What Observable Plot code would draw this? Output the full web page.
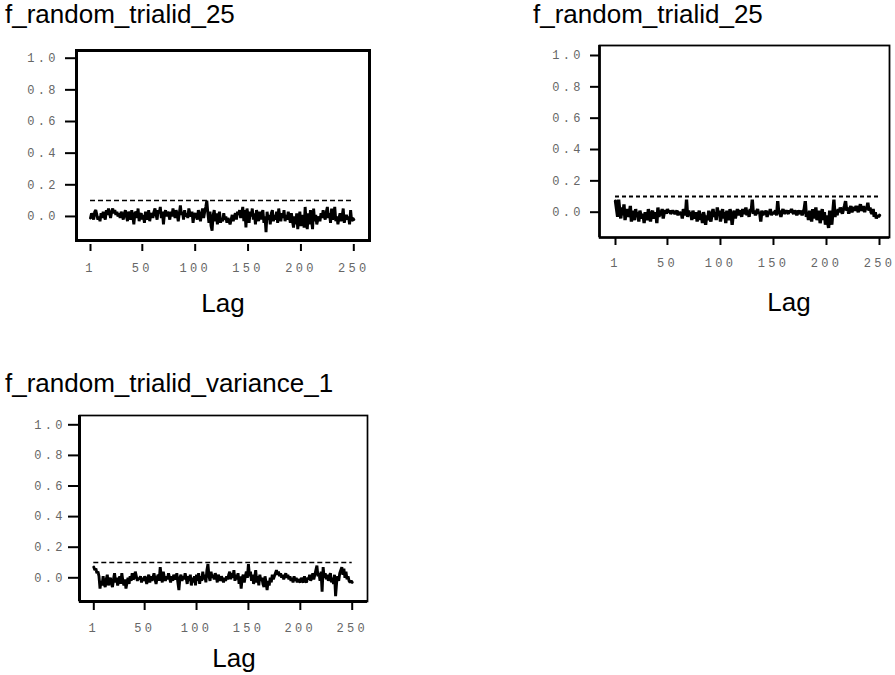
<!DOCTYPE html>
<html><head><meta charset="utf-8">
<script src="https://cdn.jsdelivr.net/npm/d3@7"></script>
<script src="https://cdn.jsdelivr.net/npm/@observablehq/plot@0.6"></script>
<style>
html,body{margin:0;padding:0;background:#fff;}
body{width:895px;height:675px;position:relative;overflow:hidden;}
.title{position:absolute;font-family:"Liberation Sans",Arial,sans-serif;font-size:26px;line-height:26px;color:#000;white-space:nowrap;}
.panel{position:absolute;}
.panel svg{overflow:visible;}
.panel [aria-label$="tick label"]{letter-spacing:3.3px;}
</style></head><body>
<script>
const lags = Array.from({length: 250}, (_, i) => i + 1);
const titles = ["f_random_trialid_25", "f_random_trialid_25", "f_random_trialid_variance_1"];
const axisLabel = "Lag";
const yTicks = [0, 0.2, 0.4, 0.6, 0.8, 1.0];
const xTicks = [1, 50, 100, 150, 200, 250];
const bound = 0.1;
const lagRange = [1, 250];

const acf1 = [
-0.01,0.02,0.00,-0.02,0.03,0.04,0.01,-0.02,0.00,-0.03,0.02,-0.01,0.03,0.00,-0.02,0.04,0.01,0.05,0.02,-0.01,0.03,0.05,0.02,0.04,0.01,
0.03,0.00,0.02,-0.01,0.03,0.01,-0.02,0.02,0.04,0.00,-0.03,0.03,0.01,-0.02,0.04,0.00,-0.05,0.02,0.03,-0.01,0.05,-0.03,0.01,0.02,-0.02,
0.01,-0.04,0.03,0.00,-0.02,0.04,-0.03,0.01,0.02,-0.01,0.03,0.05,0.01,-0.02,0.04,0.02,0.06,-0.01,0.03,-0.05,0.02,0.04,0.00,0.03,0.01,
-0.02,0.03,0.00,0.05,0.02,-0.01,0.04,0.01,-0.03,0.02,0.07,0.01,0.03,-0.02,0.04,0.00,0.02,-0.01,0.05,0.02,0.00,0.03,-0.04,0.01,0.02,
0.00,-0.02,0.04,0.01,-0.03,0.02,0.05,-0.01,0.03,0.06,0.10,0.02,-0.04,0.03,-0.06,-0.09,0.01,0.04,-0.03,0.02,-0.05,0.00,0.03,-0.04,-0.01,
-0.03,0.02,-0.02,0.00,-0.04,-0.01,-0.03,-0.05,-0.02,0.01,-0.03,0.00,0.02,-0.02,0.03,0.01,0.04,-0.01,0.02,0.06,-0.03,0.04,-0.07,0.05,0.01,
-0.04,0.03,0.00,0.05,-0.02,0.02,-0.05,0.04,0.01,-0.03,0.03,-0.02,0.02,0.04,-0.04,0.00,-0.10,0.03,-0.02,0.01,-0.05,0.02,0.04,-0.03,0.01,
-0.02,0.03,-0.04,0.05,0.00,-0.03,0.02,-0.01,0.04,-0.03,0.01,-0.02,0.03,0.00,-0.04,0.02,-0.03,-0.07,0.00,-0.05,0.02,-0.08,-0.02,0.03,-0.06,
-0.03,0.01,-0.07,0.06,-0.04,-0.08,0.02,-0.05,0.04,-0.02,-0.08,0.05,-0.03,0.01,-0.05,-0.02,0.00,-0.03,0.02,-0.01,0.04,0.00,-0.02,0.03,0.06,
-0.01,0.02,-0.04,0.05,-0.02,0.01,0.06,-0.03,0.00,-0.05,-0.01,0.02,-0.03,0.00,0.05,-0.04,-0.01,0.01,-0.02,0.00,-0.05,0.04,-0.03,-0.01,-0.02
];
const acf2 = [
0.07,0.02,-0.03,0.08,0.01,-0.04,0.03,-0.02,0.05,-0.05,0.00,0.02,-0.03,-0.01,0.04,-0.06,0.01,-0.02,-0.05,0.02,-0.03,0.00,-0.06,0.01,-0.02,
-0.04,-0.01,-0.07,0.00,-0.03,-0.05,0.02,-0.02,-0.06,-0.01,0.01,-0.04,-0.02,0.00,-0.07,0.03,-0.03,0.01,-0.02,0.02,-0.04,0.00,0.01,-0.01,0.02,
0.00,0.01,-0.01,0.00,0.01,0.00,-0.01,0.00,0.01,-0.02,0.00,-0.01,0.00,-0.04,0.02,0.00,-0.02,0.08,-0.03,0.01,-0.02,0.00,-0.05,0.01,-0.02,
-0.04,0.00,-0.06,-0.02,0.01,-0.05,-0.01,-0.07,0.00,-0.03,-0.08,-0.02,-0.05,0.01,-0.04,-0.06,-0.01,0.02,-0.03,0.00,-0.05,0.03,-0.02,0.01,-0.06,
-0.02,0.02,-0.04,0.00,-0.07,0.01,-0.03,-0.05,0.02,-0.01,-0.08,-0.02,0.01,-0.04,-0.01,0.02,-0.02,0.00,0.01,-0.03,0.02,-0.01,0.00,0.03,-0.02,
0.01,-0.03,0.02,0.00,0.08,-0.01,0.01,-0.02,0.00,0.02,-0.01,0.00,-0.06,0.01,-0.02,0.00,-0.01,0.01,-0.03,0.00,-0.01,0.02,-0.02,0.00,-0.01,
0.00,0.01,-0.02,0.07,-0.01,0.01,-0.03,0.00,0.02,-0.01,0.00,0.01,0.00,-0.01,0.01,0.00,0.02,0.00,-0.01,0.01,0.00,-0.02,0.01,0.00,-0.01,
0.01,-0.02,0.00,0.02,0.07,-0.03,0.00,-0.05,0.01,-0.02,-0.06,0.02,-0.04,-0.01,0.03,-0.05,-0.02,0.01,-0.07,-0.03,0.02,-0.05,0.00,-0.08,-0.02,
-0.06,-0.10,0.01,-0.04,-0.08,0.00,0.08,-0.03,0.01,-0.02,0.02,0.00,0.03,0.01,-0.01,0.02,0.04,0.07,0.01,0.03,-0.01,0.02,0.04,0.00,0.02,
0.03,0.01,0.04,0.02,0.00,0.03,0.05,0.01,0.02,0.04,0.00,0.03,0.02,0.06,0.01,0.03,0.00,-0.01,0.02,-0.03,0.00,-0.04,-0.02,-0.03,-0.02
];
const acf3 = [
0.07,0.05,0.06,0.03,0.04,0.01,-0.07,-0.02,-0.05,0.01,-0.04,-0.06,-0.01,0.02,-0.05,-0.02,0.00,-0.04,-0.06,-0.01,0.03,-0.03,0.00,-0.05,-0.02,
0.01,-0.04,0.03,-0.02,-0.05,-0.01,-0.07,-0.03,0.00,-0.04,0.01,-0.02,0.03,-0.01,0.00,0.04,0.01,-0.02,0.00,-0.01,0.01,-0.03,0.00,-0.02,0.01,
-0.01,-0.04,0.00,0.02,-0.03,0.01,-0.02,0.00,0.03,-0.01,-0.04,0.00,0.02,-0.02,0.07,0.01,-0.03,0.04,0.00,-0.02,0.01,-0.01,0.03,0.00,-0.03,
0.01,-0.02,0.02,0.00,-0.01,0.03,-0.03,-0.08,0.00,0.02,-0.02,0.01,-0.01,0.03,0.00,-0.04,0.01,-0.02,0.02,-0.05,0.00,-0.03,0.01,-0.05,0.02,
-0.02,0.03,-0.04,0.01,-0.02,0.04,-0.01,0.02,-0.03,0.05,0.09,0.01,-0.02,0.04,0.00,0.02,-0.01,0.03,0.01,-0.03,0.02,0.00,-0.02,0.01,-0.01,
-0.03,0.00,-0.02,0.01,-0.01,0.02,0.04,-0.01,0.03,0.00,0.05,-0.02,0.02,-0.01,0.03,-0.04,0.01,-0.07,0.00,0.02,-0.03,0.01,0.04,0.00,0.09,
0.01,0.04,-0.02,0.02,-0.04,0.00,0.05,-0.03,0.01,-0.05,0.02,-0.02,0.00,-0.04,-0.06,0.01,-0.03,-0.08,-0.02,-0.05,0.00,-0.03,0.02,-0.01,0.01,
0.03,0.05,0.02,0.04,0.01,0.03,0.00,0.02,-0.01,0.01,0.03,0.00,0.02,-0.01,0.01,-0.02,0.00,-0.03,0.01,-0.02,0.00,-0.03,-0.01,-0.02,-0.03,
0.00,-0.02,-0.03,0.01,-0.02,-0.03,0.00,-0.01,0.02,-0.02,0.00,0.03,-0.01,0.02,0.05,0.08,0.01,0.03,-0.02,0.04,-0.09,0.07,0.00,0.03,-0.01,
0.02,-0.02,0.01,0.03,-0.03,0.00,-0.04,0.02,-0.12,-0.03,0.01,-0.02,0.03,0.05,0.07,0.02,0.06,0.00,0.04,-0.01,0.01,-0.02,-0.03,-0.02,-0.03
];

const panels = [
  {series: acf1, title: titles[0], tx: 5, ty: 1, left: 0, top: 30, width: 380, height: 290,
   mL: 76, mR: 11, mT: 20, mB: 80, xd: [-12.24, 264.85], yd: [-0.152, 1.0487],
   frameW: 3, edgeW: 3, ySize: 11, yPad: 6.7, xDy: 4, xSize: 7, xPad: 12,
   lagDx: 0, lagDy: 71, dash: "5,3", dashW: 1.5, lineW: 2.9},
  {series: acf2, title: titles[1], tx: 533, ty: 1, left: 440, top: 30, width: 455, height: 295,
   mL: 159, mR: 6, mT: 15, mB: 88, xd: [-14.09, 259.43], yd: [-0.1615, 1.0638],
   frameW: 1.8, edgeW: 2.7, ySize: 9, yPad: 6.7, xDy: 0, xSize: 8, xPad: 13,
   lagDx: 44.5, lagDy: 73, dash: "4,3", dashW: 2.2, lineW: 3.3},
  {series: acf3, title: titles[2], tx: 5, ty: 370, left: 0, top: 395, width: 380, height: 280,
   mL: 79, mR: 13, mT: 20, mB: 74, xd: [-12.78, 264.74], yd: [-0.1549, 1.0608],
   frameW: 1.7, edgeW: 3, ySize: 11, yPad: 2.7, xDy: 2, xSize: 7, xPad: 12.5,
   lagDx: 10.5, lagDy: 65, dash: "5,3", dashW: 1.5, lineW: 2.9}
];

const tickFont = "Liberation Mono, Courier New, monospace";
const labelFont = "Liberation Sans, Arial, sans-serif";

for (const p of panels) {
  const t = document.createElement("div");
  t.className = "title";
  t.style.left = p.tx + "px";
  t.style.top = p.ty + "px";
  t.textContent = p.title;
  document.body.appendChild(t);

  const rows = p.series.map((v, i) => ({lag: lags[i], acf: v}));
  const chart = Plot.plot({
    width: p.width, height: p.height,
    marginLeft: p.mL, marginRight: p.mR, marginTop: p.mT, marginBottom: p.mB,
    x: {type: "linear", domain: p.xd},
    y: {type: "linear", domain: p.yd},
    style: {fontFamily: tickFont, fontSize: "12px", background: "transparent", overflow: "visible"},
    marks: [
      Plot.frame({stroke: "black", strokeWidth: p.frameW}),
      Plot.ruleX([p.xd[0]], {stroke: "black", strokeWidth: p.edgeW}),
      Plot.ruleY([p.yd[0]], {stroke: "black", strokeWidth: p.edgeW}),
      Plot.ruleY([{y: bound, x1: lagRange[0], x2: lagRange[1]}], {y: "y", x1: "x1", x2: "x2", stroke: "black", strokeWidth: p.dashW, strokeDasharray: p.dash}),
      Plot.line(rows, {x: "lag", y: "acf", stroke: "black", strokeWidth: p.lineW, strokeLinejoin: "miter"}),
      Plot.axisY({ticks: yTicks, tickSize: p.ySize, tickPadding: p.yPad, tickFormat: d3.format(".1f"),
        label: null, stroke: "black", strokeWidth: 2, fill: "#666", fontFamily: tickFont, fontSize: 12}),
      Plot.axisX({ticks: xTicks, tickSize: p.xSize, tickPadding: p.xPad, tickFormat: d3.format("d"), dy: p.xDy,
        label: null, stroke: "black", strokeWidth: 2, fill: "#666", fontFamily: tickFont, fontSize: 12}),
      Plot.text([axisLabel], {text: d => d, frameAnchor: "bottom", dx: p.lagDx, dy: p.lagDy, lineAnchor: "bottom",
        fontSize: 26, fontFamily: labelFont, fill: "black"})
    ]
  });
  const wrap = document.createElement("div");
  wrap.className = "panel";
  wrap.style.left = p.left + "px";
  wrap.style.top = p.top + "px";
  wrap.appendChild(chart);
  document.body.appendChild(wrap);
}
</script>
</body></html>
